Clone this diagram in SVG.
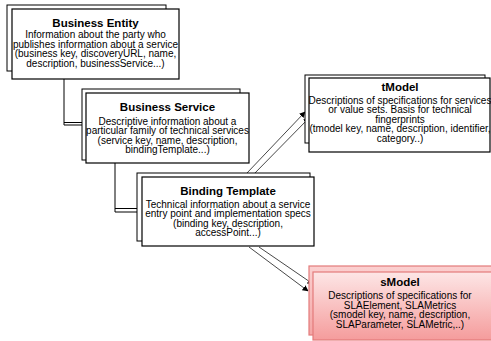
<svg xmlns="http://www.w3.org/2000/svg" width="491" height="341" viewBox="0 0 491 341">
<defs>
<style>
.bk{fill:#fff;stroke:#000;stroke-width:1}
.fr{fill:#fff;stroke:#000;stroke-width:1.2}
.t{font-family:"Liberation Sans",Arial,sans-serif;font-size:11.5px;font-weight:bold;text-anchor:middle;fill:#000}
.d{font-family:"Liberation Sans",Arial,sans-serif;font-size:10px;text-anchor:middle;fill:#000}
.c{fill:none;stroke:#000;stroke-width:1}
.a{fill:none;stroke:#333;stroke-width:0.9;marker-end:url(#ah)}
.pk{stroke:#e37b7b;stroke-width:1.2}
</style>
<marker id="ah" viewBox="0 0 10 10" refX="9" refY="5" markerWidth="6" markerHeight="6" orient="auto" markerUnits="userSpaceOnUse">
<path d="M0,0 L10,5 L0,10 z" fill="#000"/>
</marker>
<linearGradient id="pg" x1="0" y1="0" x2="0" y2="1">
<stop offset="0" stop-color="#fde6e6"/>
<stop offset="1" stop-color="#f59c9c"/>
</linearGradient>
<linearGradient id="pg2" x1="0" y1="0" x2="0" y2="1">
<stop offset="0" stop-color="#fbd0d0"/>
<stop offset="1" stop-color="#f4a5a5"/>
</linearGradient>
</defs>
<rect width="491" height="341" fill="#fff"/>
<g id="connectors">
<path class="c" d="M64,79 V125 H86"/>
<path class="c" d="M64,122.5 H82"/>
<path class="c" d="M115,163 V212 H142"/>
<path class="c" d="M115,208.5 H137"/>
<path class="a" d="M247,173 L305,112"/>
<path class="a" d="M253,175 L309,118"/>
<path class="a" d="M249,247 L308,291"/>
<path class="a" d="M259,247 L313,284"/>
</g>
<g id="business-entity">
<rect class="bk" x="7" y="5" width="159" height="66"/>
<rect class="fr" x="12" y="9" width="167" height="70"/>
<text class="t" x="95.5" y="26.5">Business Entity</text>
<text class="d" x="95.5" y="38">Information about the party who</text>
<text class="d" x="95.5" y="47.5">publishes information about a service</text>
<text class="d" x="95.5" y="57">(business key, discoveryURL, name,</text>
<text class="d" x="95.5" y="66.5">description, businessService...)</text>
</g>
<g id="business-service">
<rect class="bk" x="82" y="89" width="158" height="71"/>
<rect class="fr" x="86" y="93" width="163" height="70"/>
<text class="t" x="167.5" y="111">Business Service</text>
<text class="d" x="167.5" y="124.5">Descriptive information about a</text>
<text class="d" x="167.5" y="134">particular family of technical services</text>
<text class="d" x="167.5" y="143.5">(service key, name, description,</text>
<text class="d" x="167.5" y="153">bindingTemplate...)</text>
</g>
<g id="binding-template">
<rect class="bk" x="137" y="173" width="173" height="68"/>
<rect class="fr" x="142" y="177" width="172" height="69"/>
<text class="t" x="228" y="195">Binding Template</text>
<text class="d" x="228" y="207.5">Technical information about a service</text>
<text class="d" x="228" y="217">entry point and implementation  specs</text>
<text class="d" x="228" y="226.5">(binding key, description,</text>
<text class="d" x="228" y="236">accessPoint...)</text>
</g>
<g id="tmodel">
<rect class="bk" x="305" y="75" width="180" height="68"/>
<rect class="fr" x="309" y="78" width="181" height="74"/>
<text class="t" x="400" y="90.5">tModel</text>
<text class="d" x="400" y="103.5">Descriptions of specifications  for services</text>
<text class="d" x="400" y="113">or value sets. Basis for technical</text>
<text class="d" x="400" y="122.5">fingerprints</text>
<text class="d" x="400" y="132">(tmodel key, name, description, identifier,</text>
<text class="d" x="400" y="141.5">category..)</text>
</g>
<g id="smodel">
<rect class="pk" x="309" y="266" width="185" height="69" fill="url(#pg2)"/>
<rect class="pk" x="313" y="272" width="182" height="68" fill="url(#pg)"/>
<text class="t" x="400" y="285.5">sModel</text>
<text class="d" x="400" y="298.5">Descriptions of specifications  for</text>
<text class="d" x="400" y="308.5">SLAElement, SLAMetrics</text>
<text class="d" x="400" y="318">(smodel key, name, description,</text>
<text class="d" x="400" y="327.5">SLAParameter, SLAMetric,..)</text>
</g>
</svg>
